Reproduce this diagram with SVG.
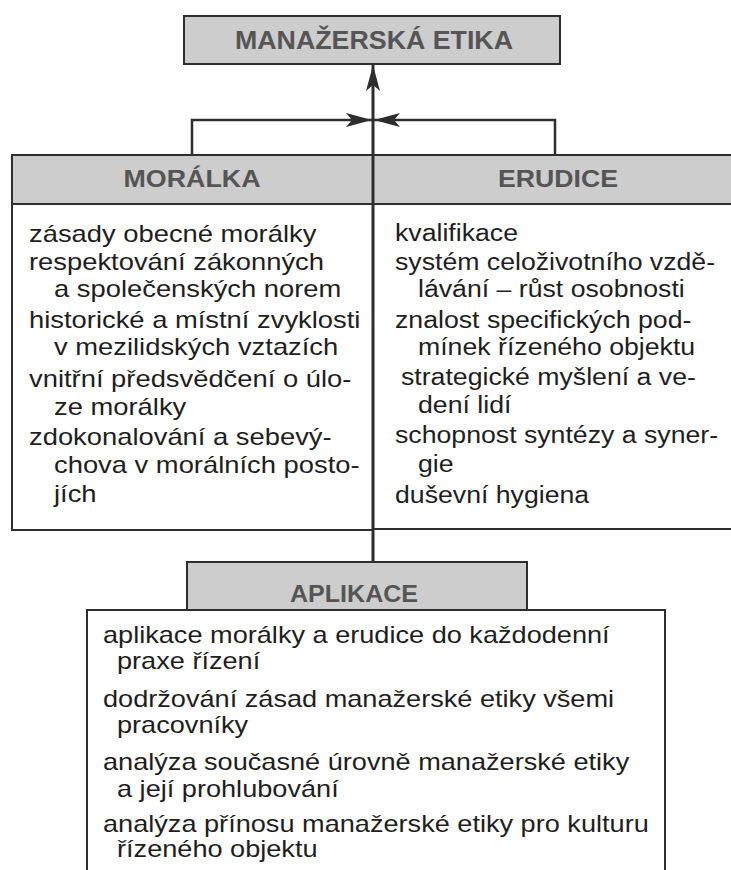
<svg xmlns="http://www.w3.org/2000/svg" width="731" height="870" viewBox="0 0 731 870">
  <style>
    .bg { fill: #ffffff; }
    .hdr { fill: #cdcdcd; stroke: #2e2e2e; stroke-width: 2; }
    .box { fill: #ffffff; stroke: #2e2e2e; stroke-width: 2; }
    .ht { font-family: "Liberation Sans", Arial, sans-serif; font-weight: bold; font-size: 23px; fill: #555555; text-anchor: middle; }
    .ht-top { font-size: 25px; }
    .t { font-family: "Liberation Sans", Arial, sans-serif; font-size: 23px; fill: #1e1e1e; }
    .conn { fill: none; stroke: #2e2e2e; stroke-width: 2.5; }
    .main { fill: none; stroke: #2e2e2e; stroke-width: 3; }
  </style>
  <defs>
    <marker id="arr" markerUnits="userSpaceOnUse" viewBox="0 0 26 14" refX="26" refY="7" markerWidth="26" markerHeight="14" orient="auto">
      <path d="M0,0 L26,7 L0,14 L6,7 Z" fill="#2e2e2e"/>
    </marker>
  </defs>
  <rect class="bg" x="0" y="0" width="731" height="870"/>

  <g id="manazerska-etika">
    <rect class="hdr" x="184" y="16" width="376" height="48"/>
    <text class="ht ht-top" x="374" y="49" textLength="278" lengthAdjust="spacingAndGlyphs">MANAŽERSKÁ ETIKA</text>
  </g>

  <g id="moralka">
    <rect class="box" x="12" y="204" width="361" height="326"/>
    <rect class="hdr" x="12" y="155" width="361" height="49"/>
    <text class="ht" x="192" y="187" textLength="137" lengthAdjust="spacingAndGlyphs">MORÁLKA</text>
    <text class="t" transform="translate(29 242) scale(1.19 1)">zásady obecné morálky</text>
    <text class="t" transform="translate(29 270) scale(1.19 1)">respektování zákonných</text>
    <text class="t" transform="translate(54 297) scale(1.19 1)">a společenských norem</text>
    <text class="t" transform="translate(29 328) scale(1.19 1)">historické a místní zvyklosti</text>
    <text class="t" transform="translate(54 355) scale(1.19 1)">v mezilidských vztazích</text>
    <text class="t" transform="translate(29 387) scale(1.19 1)">vnitřní předsvědčení o úlo-</text>
    <text class="t" transform="translate(54 415) scale(1.19 1)">ze morálky</text>
    <text class="t" transform="translate(29 445) scale(1.19 1)">zdokonalování a sebevý-</text>
    <text class="t" transform="translate(54 473) scale(1.19 1)">chova v morálních posto-</text>
    <text class="t" transform="translate(54 502) scale(1.19 1)">jích</text>
  </g>

  <g id="erudice">
    <rect class="box" x="373" y="204" width="370" height="325"/>
    <rect class="hdr" x="373" y="155" width="370" height="49"/>
    <text class="ht" x="558" y="187" textLength="120" lengthAdjust="spacingAndGlyphs">ERUDICE</text>
    <text class="t" transform="translate(395 241) scale(1.16 1)">kvalifikace</text>
    <text class="t" transform="translate(395 270) scale(1.16 1)">systém celoživotního vzdě-</text>
    <text class="t" transform="translate(418 297) scale(1.16 1)">lávání – růst osobnosti</text>
    <text class="t" transform="translate(395 328) scale(1.16 1)">znalost specifických pod-</text>
    <text class="t" transform="translate(418 355) scale(1.16 1)">mínek řízeného objektu</text>
    <text class="t" transform="translate(401 385) scale(1.16 1)">strategické myšlení a ve-</text>
    <text class="t" transform="translate(418 413) scale(1.16 1)">dení lidí</text>
    <text class="t" transform="translate(395 443) scale(1.16 1)">schopnost syntézy a syner-</text>
    <text class="t" transform="translate(418 472) scale(1.16 1)">gie</text>
    <text class="t" transform="translate(395 503) scale(1.16 1)">duševní hygiena</text>
  </g>

  <g id="aplikace">
    <rect class="box" x="87" y="610" width="578" height="270"/>
    <rect class="hdr" x="187" y="562" width="340" height="48"/>
    <text class="ht" x="354" y="602" textLength="128" lengthAdjust="spacingAndGlyphs">APLIKACE</text>
    <text class="t" transform="translate(103 643) scale(1.18 1)">aplikace morálky a erudice do každodenní</text>
    <text class="t" transform="translate(117 669) scale(1.18 1)">praxe řízení</text>
    <text class="t" transform="translate(103 707) scale(1.18 1)">dodržování zásad manažerské etiky všemi</text>
    <text class="t" transform="translate(117 733) scale(1.18 1)">pracovníky</text>
    <text class="t" transform="translate(103 770) scale(1.18 1)">analýza současné úrovně manažerské etiky</text>
    <text class="t" transform="translate(117 797) scale(1.18 1)">a její prohlubování</text>
    <text class="t" transform="translate(103 832) scale(1.18 1)">analýza přínosu manažerské etiky pro kulturu</text>
    <text class="t" transform="translate(117 857) scale(1.18 1)">řízeného objektu</text>
  </g>

  <g id="connectors">
    <path class="main" d="M373,562 V65" marker-end="url(#arr)"/>
    <path class="conn" d="M192,155 V120 H372" marker-end="url(#arr)"/>
    <path class="conn" d="M555,155 V120 H374" marker-end="url(#arr)"/>
  </g>
</svg>
